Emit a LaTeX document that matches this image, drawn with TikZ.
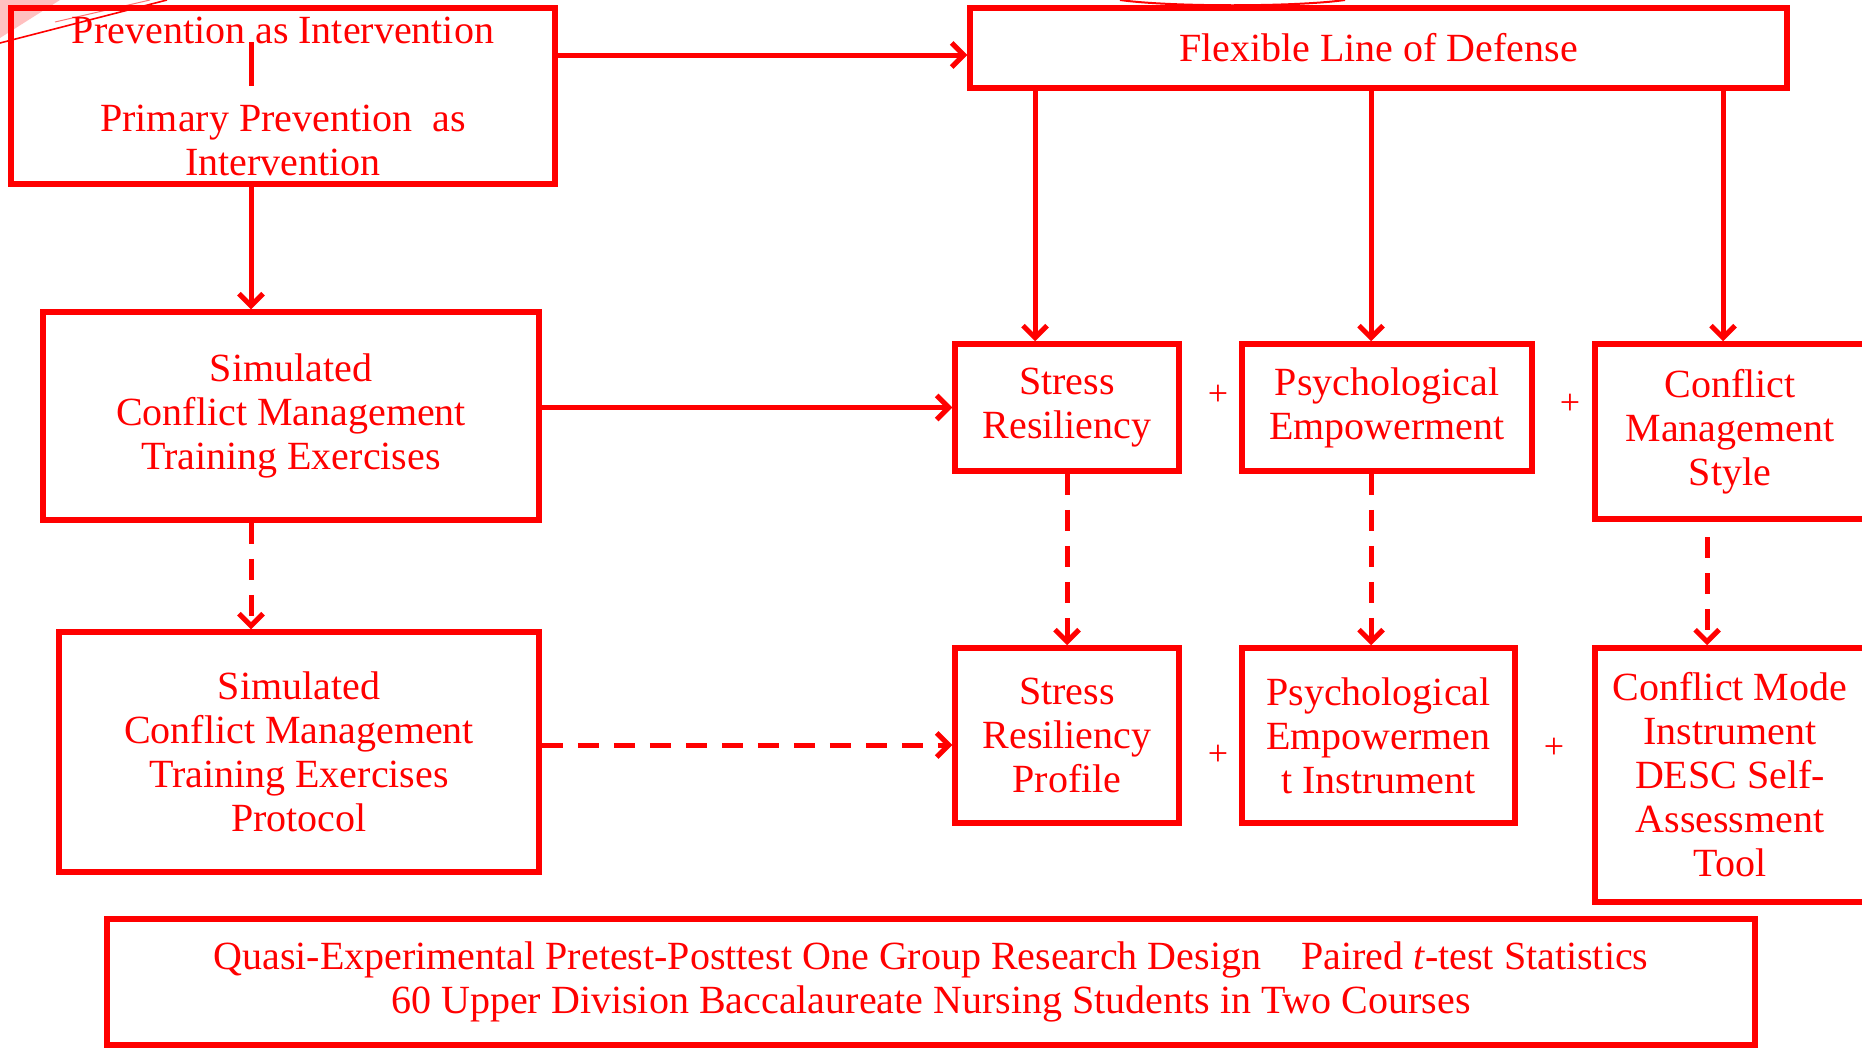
\documentclass[tikz,border=0pt]{standalone}
\usepackage{fontspec}
\setmainfont{Liberation Serif}
\usetikzlibrary{arrows.meta}
\definecolor{rr}{RGB}{255,0,0}
\begin{document}
\begin{tikzpicture}[x=1pt,y=-1pt,
  box/.style={draw=rr, line width=5.5pt, text=rr, align=center, inner sep=0pt,
    font=\fontsize{40}{44}\selectfont},
  arr/.style={draw=rr, line width=5pt, -{Straight Barb[length=12pt,width=24pt]}},
  darr/.style={arr, dash pattern=on 21pt off 15pt},
  plus/.style={text=rr, font=\fontsize{36}{40}\selectfont, inner sep=0pt},
  deco/.style={draw=rr}]
\useasboundingbox (0,0) rectangle (1862,1047);
\fill[white] (0,0) rectangle (1862,1047);
% template decorations
\fill[rr!35, opacity=0.7] (0,0) -- (60,0) -- (0,38) -- cycle;
\draw[deco, line width=1.6pt] (0,43) -- (167,0);
\draw[deco, draw=rr!55, line width=1pt] (55,22) -- (150,0);
\draw[deco, line width=2pt] (1120,0) .. controls (1170,7) and (1295,7) .. (1345,0);

% boxes
\node[box, minimum width=544pt, minimum height=176pt] (A) at (283,96)
  {Prevention as Intervention\\[44pt]Primary Prevention\ \ as\\Intervention};
\node[box, minimum width=817pt, minimum height=80pt] (F) at (1378.5,48)
  {Flexible Line of Defense};
\node[box, minimum width=496pt, minimum height=208pt] (S1) at (291,416)
  {Simulated\\Conflict Management\\Training Exercises};
\node[box, minimum width=480pt, minimum height=240pt] (S2) at (299,752)
  {Simulated\\Conflict Management\\Training Exercises\\Protocol};
\node[box, minimum width=224pt, minimum height=127pt] (SR) at (1067,407.5)
  {Stress\\Resiliency};
\node[box, minimum width=290pt, minimum height=127pt] (PE) at (1387,407.5)
  {Psychological\\Empowerment};
\node[box, minimum width=270pt, minimum height=175pt] (CMS) at (1730,431.5)
  {Conflict\\Management\\Style};
\node[box, minimum width=224pt, minimum height=175pt] (SRP) at (1067,735.5)
  {Stress\\Resiliency\\Profile};
\node[box, minimum width=273pt, minimum height=175pt] (PEI) at (1378.5,735.5)
  {Psychological\\Empowermen\\t Instrument};
\node[box, minimum width=270pt, minimum height=254pt] (CMI) at (1730,775)
  {Conflict Mode\\Instrument\\DESC Self-\\Assessment\\Tool};
\node[box, minimum width=1648pt, minimum height=126pt] (B) at (931,982)
  {Quasi-Experimental Pretest-Posttest One Group Research Design\hspace{40pt}Paired \textit{t}-test Statistics\\60 Upper Division Baccalaureate Nursing Students in Two Courses};

% plus signs
\node[plus] (p1) at (1218,395) {+};
\node[plus] (p2) at (1570,404) {+};
\node[plus] (p3) at (1218,755) {+};
\node[plus] (p4) at (1554,748) {+};

% connectors
\coordinate (ca) at (251,42);
\coordinate (cb) at (251,86);
\draw[deco, line width=5pt] (ca) -- (cb);
\draw[arr] (A.east |- 0,55) -- (F.west |- 0,55);
\draw[arr] (A.south -| ca) -- (S1.north -| ca);
\draw[arr] (S1.east |- SR.west) -- (SR.west);
\draw[darr] (S1.south -| ca) -- (S2.north -| ca);
\draw[darr] (S2.east |- 0,745) -- (SRP.west |- 0,745);
\draw[arr] (F.south -| 1035,0) -- (SR.north -| 1035,0);
\draw[arr] (F.south -| 1371,0) -- (PE.north -| 1371,0);
\draw[arr] (F.south -| 1723,0) -- (CMS.north -| 1723,0);
\draw[darr] (SR.south) -- (SRP.north);
\draw[darr] (PE.south -| 1371,0) -- (PEI.north -| 1371,0);
\coordinate (cm) at (1707,537);
\draw[darr] (cm) -- (CMI.north -| cm);
\end{tikzpicture}
\end{document}
